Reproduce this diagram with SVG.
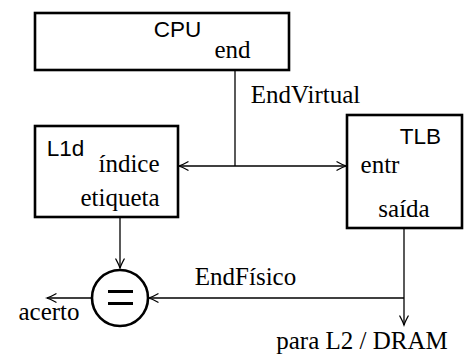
<svg xmlns="http://www.w3.org/2000/svg" width="469" height="358" viewBox="0 0 469 358">
  <style>
    .box { fill: #fff; stroke: #000; stroke-width: 2.6; }
    .wire { fill: none; stroke: #000; stroke-width: 1.3; }
    .sans { font-family: "Liberation Sans", Arial, sans-serif; font-size: 22.5px; fill: #000; text-anchor: middle; }
    .serif { font-family: "Liberation Serif", "Times New Roman", serif; font-size: 25px; fill: #000; text-anchor: middle; }
  </style>
  <defs>
    <marker id="arr" markerUnits="userSpaceOnUse" markerWidth="14" markerHeight="12" viewBox="-11 -6 14 12" refX="0" refY="0" orient="auto">
      <path d="M-9,-4.2 Q-3,-1 0,0 Q-3,1 -9,4.2" fill="none" stroke="#000" stroke-width="1.3" stroke-linecap="round"/>
    </marker>
  </defs>

  <!-- connectors -->
  <g id="connectors">
    <path class="wire" d="M235,70 V166"/>
    <path class="wire" d="M235,166 H179" marker-end="url(#arr)"/>
    <path class="wire" d="M235,166 H346" marker-end="url(#arr)"/>
    <path class="wire" d="M120,217 V268" marker-end="url(#arr)"/>
    <path class="wire" d="M404,228 V325" marker-end="url(#arr)"/>
    <path class="wire" d="M404,298 H149" marker-end="url(#arr)"/>
    <path class="wire" d="M92,298 H47" marker-end="url(#arr)"/>
    <text class="serif" x="305.5" y="103">EndVirtual</text>
    <text class="serif" x="245.5" y="285">EndFísico</text>
    <text class="serif" x="49" y="320">acerto</text>
    <text class="serif" x="362" y="349">para L2 / DRAM</text>
  </g>

  <!-- CPU -->
  <g id="cpu">
    <rect class="box" x="35" y="13" width="254" height="57"/>
    <text class="sans" x="177.5" y="37">CPU</text>
    <text class="serif" x="232.5" y="58">end</text>
  </g>

  <!-- L1 data cache -->
  <g id="l1d">
    <rect class="box" x="35" y="126" width="143" height="91"/>
    <text class="sans" x="65.5" y="155.5">L1d</text>
    <text class="serif" x="129" y="172">índice</text>
    <text class="serif" x="120" y="206">etiqueta</text>
  </g>

  <!-- TLB -->
  <g id="tlb">
    <rect class="box" x="347" y="115" width="115" height="113"/>
    <text class="sans" x="420.5" y="143.5">TLB</text>
    <text class="serif" x="380" y="173">entr</text>
    <text class="serif" x="404" y="217">saída</text>
  </g>

  <!-- tag comparator -->
  <g id="compare">
    <circle class="box" cx="120" cy="298" r="28"/>
    <path d="M108,291.5 H133 M108,303.5 H133" stroke="#000" stroke-width="3.2" fill="none"/>
  </g>
</svg>
